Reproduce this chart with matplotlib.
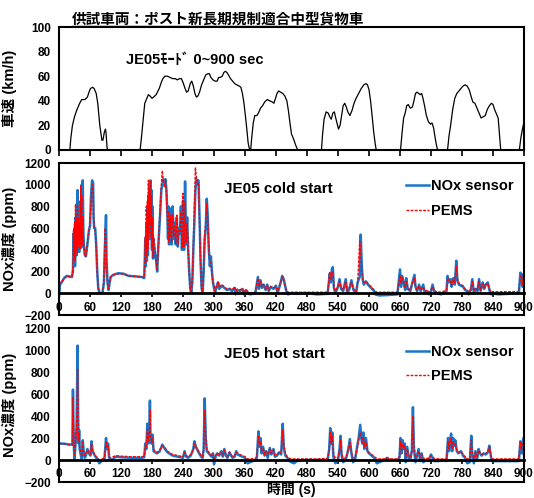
import matplotlib
matplotlib.use("Agg")
import matplotlib.pyplot as plt
from matplotlib.lines import Line2D

plt.rcParams['font.family'] = ['Liberation Sans', 'Noto Sans CJK JP', 'DejaVu Sans']
plt.rcParams['font.weight'] = 'bold'

# ---- data (time s, value) ----
speed = [(0, 0), (21, 0), (23, 10), (26, 20), (30, 27), (34, 32), (40, 38), (44, 41), (50, 41),
         (55, 43), (58, 47), (61, 50), (65, 51), (68, 50), (72, 46), (75, 38), (79, 20), (83, 8),
         (85, 8), (88, 15), (90, 17), (91, 14), (93, 2), (94, 0), (157, 0), (160, 12), (163, 25),
         (166, 38), (170, 42), (173, 45), (176, 44), (180, 42), (183, 43), (188, 45), (194, 50),
         (198, 55), (201, 58), (205, 60), (210, 60), (215, 59), (220, 58), (225, 58), (229, 57),
         (233, 58), (237, 58), (240, 55), (244, 50), (247, 47), (250, 48), (254, 54), (257, 56),
         (260, 52), (263, 46), (266, 43), (269, 44), (272, 47), (276, 53), (280, 57), (284, 61),
         (288, 62), (291, 62), (294, 59), (298, 57), (302, 56), (306, 56), (309, 59), (312, 59),
         (316, 60), (319, 63), (322, 64), (325, 63), (328, 61), (332, 58), (336, 56), (340, 54),
         (344, 53), (349, 52), (352, 51), (355, 46), (358, 38), (361, 27), (364, 15), (366, 6),
         (369, 0), (371, 0), (373, 10), (376, 22), (379, 28), (383, 28), (386, 30), (390, 34),
         (394, 36), (398, 39), (403, 41), (408, 40), (413, 39), (416, 38), (419, 42), (422, 46),
         (425, 48), (429, 47), (433, 46), (437, 44), (441, 40), (444, 32), (447, 22), (450, 13),
         (454, 9), (458, 4), (462, 0), (508, 0), (510, 12), (513, 25), (517, 31), (521, 30),
         (524, 27), (527, 25), (530, 30), (533, 31), (535, 27), (538, 22), (541, 17), (544, 20),
         (547, 28), (550, 36), (553, 38), (556, 35), (559, 31), (563, 28), (567, 32), (571, 38),
         (575, 42), (580, 46), (585, 50), (590, 53), (594, 54), (597, 53), (600, 49), (603, 40),
         (606, 28), (609, 15), (612, 5), (614, 0), (661, 0), (664, 14), (667, 26), (670, 30),
         (673, 36), (676, 37), (680, 34), (684, 35), (687, 40), (690, 46), (693, 47), (696, 46),
         (699, 45), (702, 46), (705, 41), (708, 35), (711, 28), (715, 23), (719, 21), (722, 22),
         (725, 18), (728, 10), (731, 3), (733, 0), (752, 0), (755, 12), (758, 20), (762, 33),
         (766, 42), (770, 46), (774, 48), (778, 50), (782, 52), (786, 53), (790, 52), (794, 49),
         (798, 43), (801, 39), (805, 38), (809, 34), (813, 30), (817, 26), (821, 27), (825, 28),
         (829, 33), (833, 36), (837, 38), (840, 37), (843, 33), (847, 29), (850, 26), (852, 15),
         (854, 5), (855, 0), (891, 0), (894, 10), (897, 17), (900, 23)]

cold_sensor = [(0, -30), (2, 80), (5, 100), (10, 140), (15, 160), (25, 150), (27, 200), (28, 550),
               (29, 300), (30, 600), (31, 250), (32, 700), (33, 350), (34, 820), (35, 400), (36, 950),
               (37, 450), (38, 650), (39, 380), (40, 600), (41, 450), (42, 850), (43, 420), (44, 1000),
               (45, 500), (46, 1040), (47, 600), (48, 450), (50, 350), (52, 340), (55, 450), (58, 580),
               (60, 620), (62, 900), (64, 1040), (66, 1020), (67, 700), (68, 600), (70, 600), (72, 450),
               (74, 200), (76, 50), (78, 10), (80, 0), (84, 0), (87, 100), (89, 450), (91, 720),
               (92, 300), (94, 100), (96, 30), (98, 100), (100, 150), (105, 170), (115, 185), (125, 180),
               (135, 160), (150, 155), (160, 150), (165, 140), (166, 300), (167, 500), (168, 250),
               (169, 650), (170, 300), (171, 800), (172, 350), (173, 900), (174, 500), (175, 1000),
               (176, 600), (177, 1040), (178, 500), (179, 950), (180, 400), (181, 800), (182, 320),
               (183, 500), (185, 400), (188, 300), (190, 200), (193, 500), (196, 750), (198, 950),
               (200, 1000), (202, 1050), (204, 1030), (206, 1050), (208, 950), (210, 700), (211, 500),
               (212, 800), (213, 450), (214, 700), (215, 500), (216, 780), (218, 450), (220, 800),
               (222, 500), (224, 650), (226, 450), (228, 700), (230, 430), (232, 600), (234, 550),
               (236, 800), (238, 400), (240, 850), (242, 400), (244, 1030), (246, 450), (248, 700),
               (250, 400), (252, 200), (254, 50), (256, 0), (258, 100), (260, 400), (262, 650),
               (264, 950), (266, 1050), (268, 1040), (270, 1040), (272, 700), (274, 300), (276, 50),
               (278, 0), (280, 200), (282, 500), (284, 600), (286, 870), (288, 700), (290, 400),
               (292, 250), (294, 340), (296, 200), (298, 100), (300, 50), (302, 0), (305, 60),
               (308, 100), (310, 40), (315, 70), (320, 50), (325, 30), (330, 40), (335, 20), (340, 50),
               (342, -10), (345, 30), (350, 20), (355, 40), (358, -10), (362, 30), (366, 0), (370, -10),
               (380, 0), (385, 150), (387, 40), (390, 120), (393, 50), (396, 80), (400, 30), (403, 80),
               (406, 20), (410, 60), (415, 40), (420, 70), (423, 0), (428, 80), (432, 160), (435, 130),
               (438, 60), (440, 20), (443, -10), (450, 0), (460, -5), (480, 0), (500, -10), (520, -5),
               (524, 180), (526, 100), (528, 220), (530, 240), (532, 50), (535, 0), (540, 60),
               (543, 130), (546, 40), (550, 20), (555, 130), (558, 0), (562, 40), (566, 120), (570, 30),
               (575, 0), (578, 100), (582, 150), (584, 540), (586, 250), (588, 120), (590, 80),
               (594, 110), (598, 80), (602, 60), (606, 40), (610, 20), (612, -10), (620, -20),
               (640, -15), (655, -10), (660, 220), (662, 60), (664, 160), (667, 100), (670, 30),
               (672, 140), (675, 40), (680, 20), (684, 100), (688, 170), (690, 60), (693, 20), (697, 80),
               (700, 20), (705, 80), (708, 0), (712, 20), (716, -10), (720, 20), (723, 80), (726, 20),
               (730, 0), (740, -10), (750, 20), (752, 160), (755, 100), (758, 130), (760, 60),
               (763, 140), (766, 80), (769, 300), (771, 120), (774, 80), (778, 70), (782, 60),
               (786, 30), (790, 20), (793, -10), (797, 30), (800, 130), (803, 0), (807, 40), (810, 20),
               (813, 130), (816, 20), (820, 100), (823, 40), (826, 80), (830, 100), (833, 30),
               (836, -10), (840, 0), (850, -10), (870, -5), (890, 0), (893, 190), (895, 150), (897, 60),
               (899, 180), (900, 100)]

cold_pems = [(0, 80), (2, 90), (5, 100), (10, 140), (15, 155), (25, 150), (27, 250), (28, 580),
             (29, 350), (30, 650), (31, 300), (32, 820), (33, 400), (34, 700), (35, 350), (36, 800),
             (37, 450), (38, 700), (39, 420), (40, 650), (41, 400), (42, 990), (43, 500), (44, 900),
             (45, 450), (46, 700), (47, 500), (48, 420), (50, 360), (52, 340), (55, 470), (58, 590),
             (60, 630), (62, 850), (64, 1000), (66, 950), (67, 680), (68, 600), (70, 580), (72, 420),
             (74, 180), (76, 40), (78, 5), (80, 0), (84, 0), (87, 120), (89, 600), (91, 500),
             (92, 250), (94, 80), (96, 40), (98, 100), (100, 150), (105, 170), (115, 180), (125, 175),
             (135, 160), (150, 155), (160, 150), (165, 145), (166, 350), (167, 520), (168, 280),
             (169, 800), (170, 350), (171, 850), (172, 400), (173, 1040), (174, 550), (175, 960),
             (176, 620), (177, 1040), (178, 520), (179, 900), (180, 420), (181, 700), (182, 330),
             (183, 520), (185, 420), (188, 300), (190, 210), (193, 520), (196, 800), (198, 1000),
             (200, 1130), (202, 1020), (204, 980), (206, 1050), (208, 900), (210, 650), (211, 520),
             (212, 750), (213, 470), (214, 680), (215, 520), (216, 720), (218, 470), (220, 720),
             (222, 520), (224, 620), (226, 460), (228, 720), (230, 440), (232, 580), (234, 560),
             (236, 750), (238, 420), (240, 920), (242, 430), (244, 850), (246, 470), (248, 650),
             (250, 420), (252, 200), (254, 40), (256, 0), (258, 120), (260, 450), (262, 800),
             (264, 1160), (266, 1060), (268, 1000), (270, 1020), (272, 650), (274, 280), (276, 40),
             (278, 0), (280, 250), (282, 550), (284, 650), (286, 830), (288, 650), (290, 380),
             (292, 300), (294, 280), (296, 180), (298, 100), (300, 60), (302, 20), (305, 70),
             (308, 110), (310, 60), (315, 80), (320, 60), (325, 40), (330, 45), (335, 30), (340, 60),
             (342, 20), (345, 40), (350, 30), (355, 45), (358, 10), (362, 35), (366, 10), (370, 5),
             (380, 10), (385, 140), (387, 60), (390, 110), (393, 60), (396, 80), (400, 40), (403, 70),
             (406, 30), (410, 60), (415, 50), (420, 60), (423, 20), (428, 90), (432, 150), (435, 120),
             (438, 70), (440, 30), (443, 10), (450, 10), (460, 10), (480, 10), (500, 10), (520, 10),
             (524, 200), (526, 120), (528, 170), (530, 200), (532, 60), (535, 20), (540, 70),
             (543, 110), (546, 50), (550, 30), (555, 110), (558, 20), (562, 50), (566, 100), (570, 40),
             (575, 15), (578, 90), (582, 480), (584, 350), (586, 200), (588, 130), (590, 100),
             (594, 110), (598, 90), (602, 70), (606, 50), (610, 30), (612, 15), (620, 10), (640, 10),
             (655, 10), (660, 170), (662, 90), (664, 140), (667, 110), (670, 50), (672, 110),
             (675, 50), (680, 30), (684, 90), (688, 140), (690, 70), (693, 30), (697, 70), (700, 30),
             (705, 60), (708, 15), (712, 30), (716, 10), (720, 30), (723, 60), (726, 30), (730, 15),
             (740, 10), (750, 30), (752, 140), (755, 110), (758, 110), (760, 70), (763, 130),
             (766, 90), (769, 250), (771, 140), (774, 90), (778, 80), (782, 70), (786, 40), (790, 30),
             (793, 10), (797, 40), (800, 110), (803, 20), (807, 50), (810, 30), (813, 110), (816, 30),
             (820, 90), (823, 50), (826, 80), (830, 90), (833, 40), (836, 15), (840, 15), (850, 15),
             (870, 15), (890, 15), (893, 150), (895, 170), (897, 80), (899, 140), (900, 90)]

hot_sensor = [(0, 150), (10, 148), (20, 140), (26, 140), (27, 640), (28, 300), (29, 100), (30, 0),
              (32, 150), (34, 300), (36, 1040), (37, 400), (38, 150), (39, 270), (40, 100), (42, 50),
              (44, 0), (46, 180), (48, 60), (50, 20), (52, 40), (55, 100), (58, 60), (61, 40),
              (63, 170), (65, 80), (68, 50), (72, 20), (75, 10), (78, -30), (80, -20), (84, 0),
              (88, 10), (91, 200), (93, 100), (95, 150), (97, 20), (100, 0), (105, 10), (110, 30),
              (120, 25), (140, 20), (160, 20), (165, 25), (167, 150), (169, 100), (171, 330),
              (173, 150), (175, 300), (176, 540), (177, 200), (179, 150), (181, 230), (183, 80),
              (186, 70), (190, 60), (195, 80), (200, 140), (205, 100), (210, 70), (220, 40), (230, 30),
              (240, 20), (243, 80), (246, 30), (250, 20), (255, 40), (260, 100), (262, 170), (265, 120),
              (270, 70), (275, 30), (278, 20), (280, 100), (282, 560), (284, 200), (286, 80), (290, 60),
              (295, 30), (298, 60), (300, -40), (303, 30), (306, 60), (310, 40), (314, 80), (317, 30),
              (320, 100), (323, 40), (326, 20), (330, 70), (333, 40), (336, 20), (340, 30), (343, 80),
              (346, 50), (350, 40), (355, 30), (360, 20), (365, -30), (370, -20), (380, 0), (383, 20),
              (386, 260), (388, 120), (390, 200), (392, 60), (395, 120), (398, 40), (401, 80),
              (404, 20), (408, 110), (411, 50), (415, 100), (418, 30), (422, 40), (426, 70), (430, 50),
              (433, 330), (435, 120), (438, 40), (442, 20), (446, -10), (450, -20), (455, -30),
              (460, -10), (470, 0), (480, 0), (500, 0), (520, 0), (523, 100), (525, 290), (527, 150),
              (529, 250), (531, 30), (535, -30), (540, 0), (543, 100), (545, 220), (547, 40),
              (550, -20), (555, 0), (560, 100), (563, 190), (566, 60), (569, -20), (573, 0), (577, 120),
              (580, 200), (583, 320), (585, 200), (587, 150), (589, 250), (591, 100), (594, 200),
              (597, 80), (600, 60), (605, 40), (610, 20), (615, -30), (620, -20), (630, 0), (635, 20),
              (640, 0), (650, 0), (655, 0), (659, 20), (661, 200), (663, 60), (665, 180), (667, 100),
              (669, 150), (671, -20), (674, 120), (677, 20), (680, 0), (683, 90), (685, 480),
              (687, 100), (690, -20), (693, 40), (696, 100), (699, -10), (702, 60), (705, -20),
              (710, 0), (715, -10), (720, 50), (723, 20), (726, -10), (735, -10), (745, 0), (750, -10),
              (753, 200), (755, 80), (757, 180), (759, 240), (761, 80), (763, 200), (765, 130),
              (767, 180), (770, 80), (773, 60), (778, 80), (782, 40), (786, 20), (790, -30), (795, -20),
              (798, 220), (800, 40), (803, -30), (806, 80), (809, 0), (812, 100), (815, 60), (818, 40),
              (822, 60), (826, 50), (830, 70), (833, 130), (836, 30), (838, -10), (845, -10),
              (860, -10), (880, -10), (890, -10), (893, 170), (895, 60), (897, 120), (899, 200),
              (900, 50)]

hot_pems = [(0, 150), (10, 148), (20, 140), (26, 140), (27, 570), (28, 320), (29, 150), (30, 50),
            (32, 170), (34, 280), (36, 830), (37, 380), (38, 180), (39, 250), (40, 120), (42, 70),
            (44, 30), (46, 160), (48, 80), (50, 40), (52, 60), (55, 90), (58, 70), (61, 50), (63, 150),
            (65, 90), (68, 60), (72, 30), (75, 20), (78, 0), (80, 0), (84, 10), (88, 20), (91, 160),
            (93, 110), (95, 130), (97, 30), (100, 20), (105, 30), (110, 40), (120, 35), (140, 30),
            (160, 30), (165, 35), (167, 130), (169, 110), (171, 280), (173, 170), (175, 260),
            (176, 460), (177, 230), (179, 170), (181, 200), (183, 100), (186, 80), (190, 70),
            (195, 90), (200, 130), (205, 110), (210, 80), (220, 50), (230, 40), (240, 30), (243, 70),
            (246, 40), (250, 30), (255, 50), (260, 90), (262, 150), (265, 120), (270, 80), (275, 40),
            (278, 30), (280, 90), (282, 450), (284, 220), (286, 100), (290, 70), (295, 40), (298, 60),
            (300, 10), (303, 40), (306, 60), (310, 50), (314, 70), (317, 40), (320, 90), (323, 50),
            (326, 30), (330, 70), (333, 50), (336, 30), (340, 40), (343, 70), (346, 60), (350, 50),
            (355, 40), (360, 30), (365, 10), (370, 10), (380, 15), (383, 30), (386, 220), (388, 140),
            (390, 170), (392, 80), (395, 110), (398, 50), (401, 80), (404, 40), (408, 100), (411, 60),
            (415, 90), (418, 40), (422, 50), (426, 70), (430, 60), (433, 270), (435, 140), (438, 60),
            (442, 30), (446, 15), (450, 10), (455, 10), (460, 10), (470, 10), (480, 10), (500, 10),
            (520, 15), (523, 90), (525, 260), (527, 160), (529, 220), (531, 60), (535, 15), (540, 20),
            (543, 90), (545, 180), (547, 60), (550, 15), (555, 20), (560, 90), (563, 160), (566, 70),
            (569, 20), (573, 20), (577, 100), (580, 180), (583, 250), (585, 220), (587, 160),
            (589, 210), (591, 120), (594, 170), (597, 90), (600, 70), (605, 50), (610, 30), (615, 15),
            (620, 10), (630, 10), (635, 20), (640, 10), (650, 10), (655, 10), (659, 30), (661, 170),
            (663, 90), (665, 150), (667, 110), (669, 130), (671, 20), (674, 100), (677, 40), (680, 20),
            (683, 80), (685, 400), (687, 130), (690, 20), (693, 50), (696, 80), (699, 20), (702, 50),
            (705, 15), (710, 15), (715, 15), (720, 40), (723, 30), (726, 15), (735, 10), (745, 10),
            (750, 10), (753, 170), (755, 100), (757, 160), (759, 200), (761, 100), (763, 170),
            (765, 140), (767, 150), (770, 90), (773, 70), (778, 80), (782, 50), (786, 30), (790, 10),
            (795, 10), (798, 180), (800, 60), (803, 10), (806, 70), (809, 20), (812, 90), (815, 60),
            (818, 50), (822, 60), (826, 60), (830, 70), (833, 120), (836, 40), (838, 10), (845, 10),
            (860, 10), (880, 10), (890, 10), (893, 170), (895, 90), (897, 140), (899, 160), (900, 60)]

x_ticks = list(range(0, 901, 60))
title_text = "供試車両：ポスト新長期規制適合中型貨物車"
mode_text = "JE05ﾓｰﾄﾞ 0~900 sec"

BLUE = "#1a75c8"
RED = "#ff0000"
W, H = 534, 498


def ax_rect(top, bottom, left=59, right=524):
    return [left / W, 1 - bottom / H, (right - left) / W, (bottom - top) / H]


def unzip(pairs):
    return [p[0] for p in pairs], [p[1] for p in pairs]


def style_ticks(ax):
    for lab in ax.get_xticklabels() + ax.get_yticklabels():
        lab.set_fontsize(8.5)
        lab.set_fontweight('bold')
    for s in ax.spines.values():
        s.set_linewidth(1.5)


fig = plt.figure(figsize=(W / 100, H / 100), dpi=100)

# ---------------- speed ----------------
ax1 = fig.add_axes(ax_rect(27, 150))
t, v = unzip(speed)
ax1.plot(t, v, color='black', lw=0.9)
ax1.set_xlim(0, 900)
ax1.set_ylim(0, 100)
ax1.set_xticks(x_ticks)
ax1.set_xticklabels([])
ax1.set_yticks(range(0, 101, 20))
ax1.tick_params(axis='x', direction='out', length=4, width=1.2)
ax1.tick_params(axis='y', length=0, pad=6)
style_ticks(ax1)
ax1.set_ylabel("車速 (km/h)", fontsize=10.5, fontweight='bold',
               family=['Liberation Sans', 'Noto Sans CJK JP'])
ax1.yaxis.set_label_coords(-0.090, 0.5)
ax1.text(130, 73, mode_text, fontsize=10.5, fontweight='bold', va='center',
         family=['Liberation Sans', 'Noto Sans CJK JP'])

fig.text(72 / W, 1 - 18 / H, title_text, fontsize=10.5, fontweight='bold', va='center',
         family=['Noto Sans CJK JP', 'DejaVu Sans'])
fig.add_artist(Line2D([72 / W, 356 / W], [1 - 26 / H, 1 - 26 / H], color='black', lw=1.0))


# ---------------- NOx panels ----------------
def nox_panel(rect, sensor, pems, label, ypos_text):
    ax = fig.add_axes(rect)
    ts, vs = unzip(sensor)
    tp, vp = unzip(pems)
    ax.plot(ts, vs, color=BLUE, lw=1.8, label="NOx sensor")
    ax.plot(tp, vp, color=RED, lw=1.0, ls=(0, (2, 1)), label="PEMS")
    ax.set_xlim(0, 900)
    ax.set_ylim(-200, 1200)
    ax.set_xticks(x_ticks)
    ax.set_yticks(range(-200, 1201, 200))
    ax.spines['bottom'].set_position(('data', 0))
    ax.plot([0, 1], [0, 0], transform=ax.transAxes, color='black', lw=1.5, clip_on=False)
    ax.tick_params(axis='x', direction='out', length=3, width=1.2, pad=3)
    ax.tick_params(axis='y', length=0, pad=6)
    style_ticks(ax)
    ax.spines['bottom'].set_linewidth(2)
    ax.set_ylabel("NOx濃度 (ppm)", fontsize=10.5, fontweight='bold',
                  family=['Liberation Sans', 'Noto Sans CJK JP'])
    ax.yaxis.set_label_coords(-0.090, 0.5)
    ax.text(0.355, ypos_text, label, transform=ax.transAxes, fontsize=11,
            fontweight='bold', va='center')
    ax.legend(loc='upper right', bbox_to_anchor=(0.99, 0.93), frameon=False,
              prop={'size': 10.5, 'weight': 'bold'}, handlelength=1.6,
              handletextpad=0.1, labelspacing=0.7, borderaxespad=0)
    return ax


ax2 = nox_panel(ax_rect(163, 315), cold_sensor, cold_pems, "JE05 cold start", 0.83)
ax3 = nox_panel(ax_rect(328, 482), hot_sensor, hot_pems, "JE05 hot start", 0.83)
ax3.set_xlabel("時間 (s)", fontsize=10, fontweight='bold',
               family=['Liberation Sans', 'Noto Sans CJK JP'])
ax3.xaxis.label.set_va('center')
ax3.xaxis.set_label_coords(0.5, -0.05)

fig.savefig("out.png", dpi=100)
